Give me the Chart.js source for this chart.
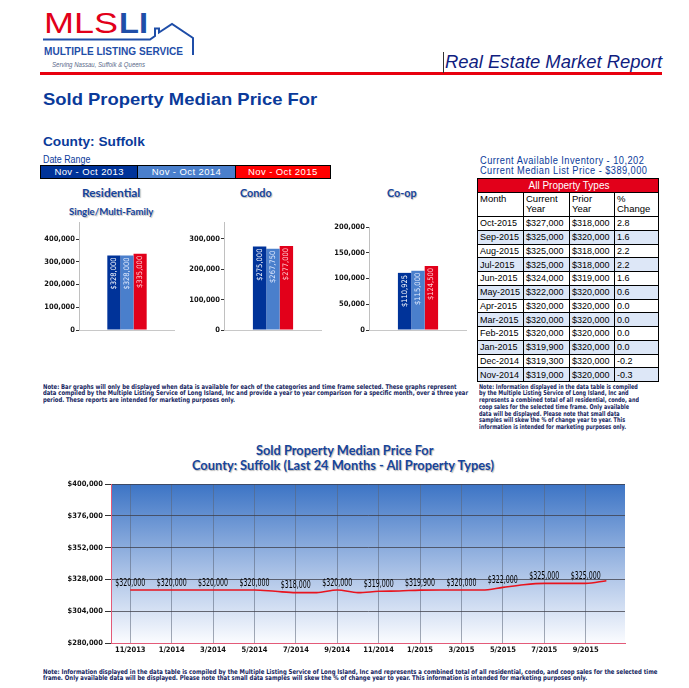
<!DOCTYPE html>
<html>
<head>
<meta charset="utf-8">
<script src="https://cdn.jsdelivr.net/npm/chart.js@4.4.1/dist/chart.umd.min.js"></script>
<style>
  html, body { margin: 0; padding: 0; background: #fff; }
  body { width: 689px; height: 688px; position: relative; overflow: hidden; font-family: "Liberation Sans", Arial, sans-serif; }
  .t { position: absolute; white-space: nowrap; transform-origin: 0 50%; }
  .navy { color: #0a3a9a; }
  .note { position: absolute; white-space: nowrap; transform-origin: 0 0; font-family: "Liberation Sans Narrow", "DejaVu Sans Condensed", sans-serif; font-size: 6.6px; line-height: 6.8px; color: #14245e; font-weight: bold; }
  .ttl { font-family: Lato, "Open Sans", sans-serif; font-weight: bold; color: #17449a; text-shadow: 1px 1px 1px rgba(0,0,0,.28); }
  .cv { position: absolute; }
  #legend { position: absolute; left: 40px; top: 165px; width: 289px; height: 12px; border: 1px solid #000; display: flex; }
  #legend div { height: 12px; line-height: 12px; color: #fff; font-size: 9.5px; text-align: center; letter-spacing: .4px; }
  #tbl { position: absolute; left: 477px; top: 178px; border-collapse: collapse; table-layout: fixed; font-size: 9px; }
  #tbl td { border: 1px solid #000; padding: 0 0 0 2px; height: 12.75px; line-height: 12px; white-space: nowrap; overflow: hidden; vertical-align: middle; }
  #tbl .hd td { background: #e2001a; color: #fff; text-align: center; font-size: 10px; height: 13px; }
  #tbl .ch td { vertical-align: top; height: 22px; line-height: 10px; padding-top: 1px; font-size: 9.5px; }
  #tbl tr.alt td { background: #dde7f7; }
</style>
</head>
<body>

<svg width="210" height="75" style="position:absolute;left:0;top:0">
  <text x="44" y="33" font-family="Liberation Sans" font-size="30" fill="#e2001a" textLength="74" lengthAdjust="spacingAndGlyphs">MLS</text>
  <text x="119" y="33" font-family="Liberation Sans" font-weight="bold" font-size="30" fill="#1f4ea8" textLength="29" lengthAdjust="spacingAndGlyphs">LI</text>
  <path d="M43 39.5 H150 L155 36 V28.5 H159 V32.5 L172 24 L193 38 V55" fill="none" stroke="#1f4ea8" stroke-width="2"/>
  <text x="44" y="55" font-family="Liberation Sans" font-weight="bold" font-size="10.5" fill="#1f4ea8" textLength="139" lengthAdjust="spacingAndGlyphs">MULTIPLE LISTING SERVICE</text>
  <text x="52" y="67" font-family="Liberation Sans" font-style="italic" font-size="7.5" fill="#5a6a8a" textLength="93" lengthAdjust="spacingAndGlyphs">Serving Nassau, Suffolk &amp; Queens</text>
</svg>
<div style="position:absolute;left:40px;top:72px;width:622px;height:3px;background:#e8000e"></div>
<div style="position:absolute;left:443px;top:52px;width:1px;height:21px;background:#333"></div>
<div class="t" data-w="217" style="left:445px;top:52px;font-size:18px;line-height:20px;font-style:italic;color:#101d80">Real Estate Market Report</div>

<div class="t navy" data-w="274" style="left:43px;top:89.5px;font-size:17px;line-height:20px;font-weight:bold">Sold Property Median Price For</div>
<div class="t navy" data-w="102" style="left:43px;top:134px;font-size:13px;line-height:16px;font-weight:bold">County: Suffolk</div>
<div class="t navy" data-w="47" style="left:43px;top:153.5px;font-size:10px;line-height:12px">Date Range</div>
<div id="legend"></div>

<div class="t ttl" data-w="58" data-c="111" style="top:185.5px;font-size:11.5px;line-height:14px">Residential</div>
<div class="t ttl" data-w="84" data-c="111" style="top:205px;font-size:9.5px;line-height:13px">Single/Multi-Family</div>
<div class="t ttl" data-w="32" data-c="256" style="top:185.5px;font-size:11.5px;line-height:14px">Condo</div>
<div class="t ttl" data-w="30" data-c="402" style="top:185.5px;font-size:11.5px;line-height:14px">Co-op</div>

<div class="cv" style="left:35px;top:212px"><canvas id="resChart" width="140" height="120"></canvas></div>
<div class="cv" style="left:180px;top:212px"><canvas id="condoChart" width="142" height="120"></canvas></div>
<div class="cv" style="left:325px;top:217px"><canvas id="coopChart" width="142" height="115"></canvas></div>

<div class="t navy" data-w="164" style="left:480px;top:154.5px;font-size:10px;line-height:12px;letter-spacing:.5px">Current Available Inventory - 10,202</div>
<div class="t navy" data-w="167" style="left:480px;top:164.5px;font-size:10px;line-height:12px;letter-spacing:.5px">Current Median List Price - $389,000</div>
<table id="tbl"></table>

<div class="note" data-w="425" style="left:43px;top:383.5px">Note: Bar graphs will only be displayed when data is available for each of the categories and time frame selected. These graphs represent<br>data compiled by the Multiple Listing Service of Long Island, Inc and provide a year to year comparison for a specific month, over a three year<br>period. These reports are intended for marketing purposes only.</div>
<div class="note" data-w="160" style="left:479px;top:383.5px">Note: Information displayed in the data table is compiled<br>by the Multiple Listing Service of Long Island, Inc and<br>represents a combined total of all residential, condo, and<br>coop sales for the selected time frame. Only available<br>data will be displayed. Please note that small data<br>samples will skew the % of change year to year. This<br>information is intended for marketing purposes only.</div>

<div class="t ttl" data-w="177" data-c="344" style="top:443px;font-size:12.5px;line-height:15px">Sold Property Median Price For</div>
<div class="t ttl" data-w="302" data-c="343" style="top:458px;font-size:12.5px;line-height:15px">County: Suffolk (Last 24 Months - All Property Types)</div>
<div class="cv" style="left:40px;top:478px"><canvas id="lineChart" width="600" height="190"></canvas></div>

<div class="note" data-w="614" style="left:43px;top:668.5px">Note: Information displayed in the data table is compiled by the Multiple Listing Service of Long Island, Inc and represents a combined total of all residential, condo, and coop sales for the selected time<br>frame. Only available data will be displayed. Please note that small data samples will skew the % of change year to year. This information is intended for marketing purposes only.</div>

<script>
// bar charts: three year ranges per property type
const barSeries = ['Nov - Oct 2013', 'Nov - Oct 2014', 'Nov - Oct 2015'];
const residential = [328000, 328000, 335000];
const condo = [275000, 267750, 277000];
const coop = [110925, 115000, 124500];
const resTicks = [0, 100000, 200000, 300000, 400000];
const condoTicks = [0, 100000, 200000, 300000];
const coopTicks = [0, 50000, 100000, 150000, 200000];

// 24 month trend
const months = ['11/2013', '12/2013', '1/2014', '2/2014', '3/2014', '4/2014', '5/2014', '6/2014', '7/2014', '8/2014', '9/2014', '10/2014',
  '11/2014', '12/2014', '1/2015', '2/2015', '3/2015', '4/2015', '5/2015', '6/2015', '7/2015', '8/2015', '9/2015', '10/2015'];
const medianPrice = [320000, 320000, 320000, 320000, 320000, 320000, 320000, 319000, 318000, 318000, 320000, 318000,
  319000, 319300, 319900, 320000, 320000, 320000, 322000, 324000, 325000, 325000, 325000, 327000];
const yTicks = [280000, 304000, 328000, 352000, 376000, 400000];

// data table
const tblMonths = ['Oct-2015', 'Sep-2015', 'Aug-2015', 'Jul-2015', 'Jun-2015', 'May-2015', 'Apr-2015', 'Mar-2015', 'Feb-2015', 'Jan-2015', 'Dec-2014', 'Nov-2014'];
const tblCurrent = [327000, 325000, 325000, 325000, 324000, 322000, 320000, 320000, 320000, 319900, 319300, 319000];
const tblPrior = [318000, 320000, 318000, 318000, 319000, 320000, 320000, 320000, 320000, 320000, 320000, 320000];
const tblChange = ['2.8', '1.6', '2.2', '2.2', '1.6', '0.6', '0.0', '0.0', '0.0', '0.0', '-0.2', '-0.3'];

const barColors = ['#003399', '#4a7fcc', '#e2001a'];
const legendColors = ['#003399', '#4a7fcc', '#ff0000'];
const barTextColors = ['#ffffff', '#e4ecff', '#ffcfd4'];
const narrow = '"Liberation Sans Narrow", "DejaVu Sans Condensed", sans-serif';
const money = v => '$' + v.toLocaleString('en-US');

// legend strip
const legend = document.getElementById('legend');
barSeries.forEach((s, i) => {
  const d = document.createElement('div');
  d.style.width = (i === 2 ? 95 : 97) + 'px';
  d.style.background = legendColors[i];
  if (i < 2) d.style.borderRight = '1px solid #000';
  d.textContent = s;
  legend.appendChild(d);
});

// table
const tbl = document.getElementById('tbl');
let html = '<colgroup><col style="width:46px"><col style="width:46px"><col style="width:45px"><col style="width:44px"></colgroup>';
html += '<tr class="hd"><td colspan="4">All Property Types</td></tr>';
html += '<tr class="ch"><td>Month</td><td>Current<br>Year</td><td>Prior<br>Year</td><td>%<br>Change</td></tr>';
tblMonths.forEach((m, i) => {
  html += '<tr' + (i % 2 ? ' class="alt"' : '') + '><td>' + m + '</td><td>' + money(tblCurrent[i]) + '</td><td>' + money(tblPrior[i]) + '</td><td>' + tblChange[i] + '</td></tr>';
});
tbl.innerHTML = html;

// fit text widths
document.querySelectorAll('[data-w]').forEach(el => {
  const w = +el.dataset.w;
  el.style.transform = 'scaleX(' + (w / el.scrollWidth) + ')';
  if (el.dataset.c) el.style.left = (+el.dataset.c - w / 2) + 'px';
});

const barLabelPlugin = {
  id: 'barLabels',
  afterDatasetsDraw(chart) {
    const ctx = chart.ctx;
    chart.data.datasets.forEach((ds, i) => {
      chart.getDatasetMeta(i).data.forEach((bar, j) => {
        ctx.save();
        ctx.translate(bar.x, bar.y + 2);
        ctx.rotate(-Math.PI / 2);
        ctx.font = '7.5px ' + narrow;
        ctx.fillStyle = barTextColors[i];
        ctx.textAlign = 'right';
        ctx.textBaseline = 'middle';
        ctx.fillText(money(ds.data[j]), 0, 0);
        ctx.restore();
      });
    });
  }
};

function makeBar(id, values, max, tickVals) {
  return new Chart(document.getElementById(id), {
    type: 'bar',
    data: {
      labels: [''],
      datasets: values.map((v, i) => ({ label: barSeries[i], data: [v], backgroundColor: barColors[i], categoryPercentage: 0.41, barPercentage: 1 }))
    },
    options: {
      responsive: false, animation: false,
      layout: { padding: { top: 10, right: 0, left: 0, bottom: 0 } },
      plugins: { legend: { display: false }, tooltip: { enabled: false } },
      scales: {
        x: {
          ticks: { display: false }, grid: { display: false }, border: { color: '#c8c8c8' },
          afterFit: s => { s.height = 2; s.paddingLeft = 0; s.paddingRight = 0; }
        },
        y: {
          min: 0, max: max,
          afterBuildTicks: s => { s.ticks = tickVals.map(v => ({ value: v })); },
          ticks: { autoSkip: false, padding: 1, color: '#111', font: { family: narrow, size: 7.5, weight: 'bold' }, callback: v => v.toLocaleString('en-US') },
          grid: { drawOnChartArea: false, tickLength: 3, tickColor: '#333' },
          border: { color: '#c0c0c0' },
          afterFit: s => { s.width = 44; s.paddingTop = 0; s.paddingBottom = 0; }
        }
      }
    },
    plugins: [barLabelPlugin]
  });
}

makeBar('resChart', residential, 475000, resTicks);
makeBar('condoChart', condo, 356000, condoTicks);
makeBar('coopChart', coop, 200000, coopTicks);

// line chart
const bgPlugin = {
  id: 'bg',
  beforeDraw(chart) {
    const a = chart.chartArea, ctx = chart.ctx;
    const g = ctx.createLinearGradient(0, a.top, 0, a.bottom);
    g.addColorStop(0, '#3c74c5');
    g.addColorStop(0.55, '#a9c1e6');
    g.addColorStop(1, '#fbfcff');
    ctx.save();
    ctx.fillStyle = g;
    ctx.fillRect(a.left, a.top, a.right - a.left, a.bottom - a.top);
    ctx.restore();
  }
};
const pointLabelPlugin = {
  id: 'pointLabels',
  afterDatasetsDraw(chart) {
    const ctx = chart.ctx;
    const pts = chart.getDatasetMeta(0).data;
    ctx.save();
    ctx.font = '10px ' + narrow;
    ctx.fillStyle = '#000';
    ctx.textAlign = 'center';
    ctx.textBaseline = 'middle';
    const k = 30 / ctx.measureText('$320,000').width;
    pts.forEach((p, i) => {
      if (i % 2 !== 0) return;
      ctx.save();
      ctx.translate(p.x, p.y - 7);
      ctx.scale(k, 1);
      ctx.fillText(money(medianPrice[i]), 0, 0);
      ctx.restore();
    });
    ctx.restore();
  }
};

new Chart(document.getElementById('lineChart'), {
  type: 'line',
  data: {
    datasets: [{
      data: months.map((m, i) => ({ x: i, y: medianPrice[i] })),
      borderColor: '#e8141e', borderWidth: 1.6, pointRadius: 0,
      cubicInterpolationMode: 'monotone', fill: false
    }]
  },
  options: {
    responsive: false, animation: false,
    layout: { padding: { top: 6, right: 15, left: 0, bottom: 0 } },
    plugins: { legend: { display: false }, tooltip: { enabled: false } },
    scales: {
      x: {
        type: 'linear', min: -0.93, max: 23.9,
        afterBuildTicks: s => { s.ticks = months.map((m, i) => ({ value: i })).filter(t => t.value % 2 === 0); },
        ticks: { autoSkip: false, maxRotation: 0, padding: 3, color: '#111', font: { family: narrow, size: 7.5, weight: 'bold' }, callback: v => months[v] },
        grid: { color: 'rgba(90,100,120,0.55)', drawTicks: false },
        border: { color: '#e35a78' },
        afterFit: s => { s.height = 25; s.paddingLeft = 0; s.paddingRight = 0; }
      },
      y: {
        min: 280000, max: 400000,
        afterBuildTicks: s => { s.ticks = yTicks.map(v => ({ value: v })); },
        ticks: { padding: 2, color: '#111', font: { family: narrow, size: 7.5, weight: 'bold' }, callback: v => money(v) },
        grid: { color: 'rgba(60,60,70,0.75)', tickLength: 6, tickColor: '#333' },
        border: { color: '#e35a78' },
        afterFit: s => { s.width = 71; s.paddingTop = 0; s.paddingBottom = 0; }
      }
    }
  },
  plugins: [bgPlugin, pointLabelPlugin]
});
</script>
</body>
</html>
